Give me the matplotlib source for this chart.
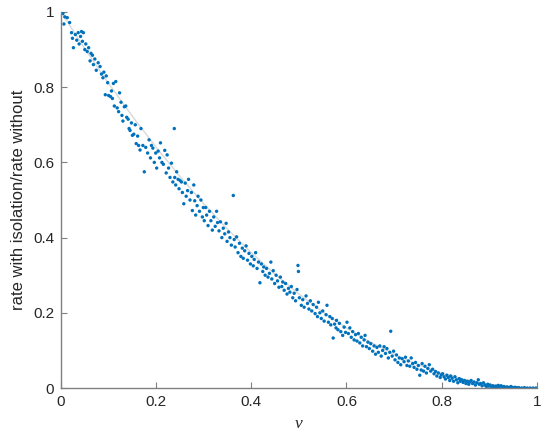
import matplotlib
matplotlib.use("Agg")
import matplotlib.pyplot as plt

# simulated points (grouped by v bin)
v = [
    0.000, 0.004, 0.008, 0.013, 0.006, 0.018,
    0.022, 0.026, 0.030, 0.033, 0.036, 0.038, 0.024,
    0.041, 0.043, 0.045, 0.047, 0.050, 0.052, 0.055, 0.058,
    0.061, 0.063, 0.066, 0.068, 0.071, 0.074, 0.078,
    0.082, 0.085, 0.088, 0.090, 0.093, 0.095, 0.098,
    0.100, 0.104, 0.106, 0.108, 0.110, 0.112, 0.115, 0.118,
    0.121, 0.123, 0.126, 0.128, 0.130, 0.133, 0.136, 0.138,
    0.141, 0.143, 0.145, 0.148, 0.150, 0.153, 0.156, 0.158,
    0.161, 0.163, 0.166, 0.168, 0.172, 0.175, 0.178,
    0.182, 0.185, 0.188, 0.190, 0.193, 0.196, 0.199,
    0.201, 0.204, 0.207, 0.209, 0.212, 0.215, 0.218,
    0.221, 0.223, 0.226, 0.229, 0.232, 0.235, 0.238, 0.239,
    0.241, 0.243, 0.246, 0.248, 0.250, 0.253, 0.255, 0.258,
    0.261, 0.263, 0.266, 0.268, 0.271, 0.274, 0.276, 0.279,
    0.281, 0.283, 0.286, 0.288, 0.291, 0.294, 0.297, 0.299,
    0.301, 0.304, 0.306, 0.309, 0.312, 0.315, 0.318,
    0.321, 0.324, 0.327, 0.329, 0.332, 0.335, 0.338,
    0.341, 0.344, 0.347, 0.349, 0.352, 0.355, 0.358, 0.362,
    0.364, 0.366, 0.369, 0.372, 0.375, 0.378,
    0.381, 0.383, 0.386, 0.389, 0.392, 0.395, 0.398,
    0.401, 0.404, 0.406, 0.409, 0.412, 0.415, 0.418,
    0.421, 0.424, 0.426, 0.429, 0.432, 0.435, 0.438,
    0.441, 0.443, 0.446, 0.449, 0.452, 0.455, 0.458,
    0.461, 0.464, 0.466, 0.469, 0.472, 0.475, 0.478,
    0.481, 0.484, 0.487, 0.490, 0.493, 0.496, 0.498, 0.499,
    0.501, 0.505, 0.508, 0.511, 0.515, 0.518,
    0.521, 0.524, 0.527, 0.530, 0.534, 0.537, 0.539,
    0.541, 0.544, 0.547, 0.550, 0.553, 0.557, 0.559,
    0.562, 0.565, 0.567, 0.570, 0.572, 0.575, 0.578, 0.579,
    0.582, 0.585, 0.588, 0.592, 0.595, 0.598,
    0.601, 0.604, 0.607, 0.610, 0.613, 0.616, 0.619,
    0.622, 0.625, 0.628, 0.631, 0.634, 0.637, 0.639,
    0.642, 0.645, 0.648, 0.651, 0.655, 0.658,
    0.661, 0.664, 0.667, 0.670, 0.673, 0.676, 0.679,
    0.682, 0.685, 0.688, 0.691, 0.693, 0.696, 0.699,
    0.702, 0.705, 0.708, 0.711, 0.714, 0.717,
    0.721, 0.724, 0.727, 0.730, 0.733, 0.736, 0.739,
    0.742, 0.745, 0.748, 0.751, 0.754, 0.757, 0.759,
    0.762, 0.765, 0.768, 0.771, 0.774, 0.777,
    0.781, 0.784, 0.787, 0.790, 0.793, 0.797, 0.799,
    0.802, 0.805, 0.808, 0.811, 0.814, 0.817, 0.819,
    0.822, 0.825, 0.828, 0.831, 0.834, 0.837, 0.839,
    0.842, 0.845, 0.848, 0.851, 0.854, 0.857, 0.859,
    0.862, 0.865, 0.868, 0.871, 0.874, 0.877, 0.879,
    0.882, 0.885, 0.888, 0.891, 0.894, 0.897, 0.899,
    0.902, 0.905, 0.908, 0.911, 0.914, 0.917, 0.919,
    0.922, 0.925, 0.928, 0.931, 0.934, 0.937,
    0.942, 0.946, 0.950, 0.954, 0.958,
    0.962, 0.968, 0.974, 0.980, 0.986, 0.992, 0.998,
]
rate = [
    1.000, 0.996, 0.987, 0.985, 0.968, 0.972,
    0.945, 0.905, 0.940, 0.925, 0.945, 0.915, 0.930,
    0.935, 0.948, 0.922, 0.945, 0.900, 0.915, 0.895, 0.905,
    0.870, 0.890, 0.885, 0.860, 0.875, 0.845, 0.865,
    0.855, 0.835, 0.825, 0.840, 0.780, 0.830, 0.812,
    0.778, 0.775, 0.790, 0.770, 0.810, 0.750, 0.815, 0.745,
    0.735, 0.785, 0.760, 0.725, 0.710, 0.748, 0.750, 0.720,
    0.715, 0.690, 0.685, 0.705, 0.672, 0.675, 0.700, 0.650,
    0.670, 0.645, 0.633, 0.690, 0.645, 0.575, 0.640,
    0.625, 0.660, 0.612, 0.645, 0.638, 0.600, 0.625,
    0.585, 0.630, 0.612, 0.652, 0.600, 0.595, 0.632,
    0.572, 0.620, 0.585, 0.560, 0.598, 0.548, 0.690, 0.560,
    0.540, 0.575, 0.555, 0.530, 0.552, 0.548, 0.520, 0.490,
    0.545, 0.510, 0.525, 0.555, 0.500, 0.520, 0.472, 0.540,
    0.498, 0.460, 0.485, 0.510, 0.470, 0.500, 0.455, 0.480,
    0.445, 0.480, 0.460, 0.432, 0.470, 0.445, 0.420,
    0.455, 0.430, 0.470, 0.440, 0.418, 0.442, 0.400,
    0.425, 0.410, 0.438, 0.390, 0.415, 0.400, 0.380, 0.512,
    0.395, 0.375, 0.402, 0.360, 0.385, 0.350,
    0.372, 0.345, 0.365, 0.378, 0.340, 0.358, 0.330,
    0.350, 0.325, 0.342, 0.360, 0.318, 0.335, 0.280,
    0.330, 0.310, 0.322, 0.300, 0.318, 0.295, 0.305,
    0.335, 0.290, 0.312, 0.278, 0.300, 0.285, 0.268,
    0.295, 0.270, 0.282, 0.260, 0.278, 0.250, 0.265,
    0.255, 0.270, 0.240, 0.252, 0.232, 0.262, 0.326, 0.310,
    0.240, 0.220, 0.235, 0.215, 0.245, 0.225,
    0.210, 0.232, 0.205, 0.222, 0.198, 0.215, 0.190,
    0.228, 0.200, 0.185, 0.205, 0.178, 0.195, 0.220,
    0.175, 0.190, 0.168, 0.185, 0.133, 0.170, 0.160, 0.180,
    0.155, 0.172, 0.150, 0.140, 0.162, 0.148,
    0.175, 0.145, 0.160, 0.135, 0.150, 0.128, 0.142,
    0.125, 0.145, 0.120, 0.135, 0.112, 0.128, 0.140,
    0.110, 0.122, 0.105, 0.118, 0.098, 0.112,
    0.090, 0.108, 0.095, 0.112, 0.085, 0.100, 0.110,
    0.092, 0.105, 0.080, 0.095, 0.151, 0.085, 0.098,
    0.075, 0.088, 0.068, 0.080, 0.062, 0.078,
    0.070, 0.082, 0.060, 0.072, 0.058, 0.080, 0.065,
    0.055, 0.068, 0.050, 0.060, 0.034, 0.048, 0.065,
    0.045, 0.058, 0.040, 0.052, 0.062, 0.045,
    0.050, 0.038, 0.044, 0.032, 0.040, 0.028, 0.035,
    0.038, 0.030, 0.024, 0.034, 0.028, 0.020, 0.032,
    0.026, 0.018, 0.030, 0.022, 0.014, 0.025, 0.018,
    0.022, 0.015, 0.020, 0.012, 0.018, 0.010, 0.016,
    0.020, 0.012, 0.016, 0.008, 0.014, 0.022, 0.010,
    0.012, 0.006, 0.014, 0.008, 0.004, 0.010, 0.005,
    0.008, 0.003, 0.006, 0.002, 0.005, 0.003, 0.007,
    0.004, 0.006, 0.002, 0.004, 0.001, 0.003,
    0.002, 0.004, 0.001, 0.002, 0.001,
    0.001, 0.000, 0.001, 0.000, 0.000, 0.000, 0.000,
]

# theoretical curve (light grey line), read at 0.05 steps
curve_v = [0.00, 0.05, 0.10, 0.15, 0.20, 0.25, 0.30, 0.35, 0.40, 0.45, 0.50,
           0.55, 0.60, 0.65, 0.70, 0.75, 0.80, 0.85, 0.90, 0.95, 1.00]
curve_rate = [1.000, 0.9025, 0.810, 0.7225, 0.640, 0.5625, 0.490, 0.4225, 0.360,
              0.3025, 0.250, 0.2025, 0.160, 0.1225, 0.090, 0.0625, 0.040,
              0.0225, 0.010, 0.0025, 0.000]

ticks = [0, 0.2, 0.4, 0.6, 0.8, 1]
tick_labels = ['0', '0.2', '0.4', '0.6', '0.8', '1']

plt.rcParams['font.family'] = ['Liberation Sans', 'DejaVu Sans']

fig = plt.figure(figsize=(5.5, 4.36), dpi=100)
ax = fig.add_axes([0.111, 0.110, 0.865, 0.8625])

ax.plot(curve_v, curve_rate, color='#d9d9d9', linewidth=1.0, zorder=1)
ax.scatter(v, rate, s=6, color='#0072BD', edgecolors='none', zorder=2)

ax.set_xlim(0, 1)
ax.set_ylim(0, 1)
ax.set_xticks(ticks)
ax.set_xticklabels(tick_labels)
ax.set_yticks(ticks)
ax.set_yticklabels(tick_labels)

for side in ['top', 'right']:
    ax.spines[side].set_visible(False)
for side in ['left', 'bottom']:
    ax.spines[side].set_color('#808080')
    ax.spines[side].set_linewidth(1.0)

ax.tick_params(direction='in', length=4, width=0.8, color='#808080',
               labelcolor='#262626', labelsize=11, pad=5)

ax.set_xlabel('v', family='Liberation Serif', style='italic', fontsize=12.5,
              color='#262626', labelpad=5)
ax.set_ylabel('rate with isolation/rate without', fontsize=12,
              color='#262626', labelpad=5)

fig.savefig('out.png', dpi=100)
